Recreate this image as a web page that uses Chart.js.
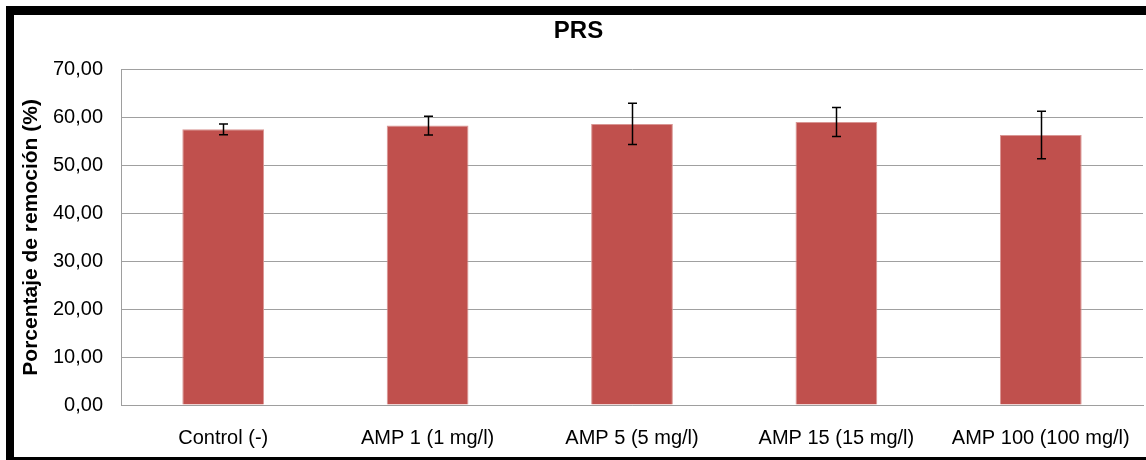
<!DOCTYPE html>
<html>
<head>
<meta charset="utf-8">
<script src="https://cdn.jsdelivr.net/npm/chart.js@4"></script>
<style>
  html, body { margin: 0; padding: 0; background: #fff; overflow: hidden; }
  #frame {
    position: absolute; left: 6px; top: 6px;
    width: 1160px; height: 442px;
    border-top: 9px solid #000; border-left: 8px solid #000; border-bottom: 8px solid #000;
    background: #fff;
  }
  #wrap { position: absolute; left: 0; top: 0; width: 1132px; height: 442px; }
</style>
</head>
<body>
<div id="frame"><div id="wrap"><canvas id="myChart" width="1132" height="442"></canvas></div></div>
<script>
const categories = ['Control (-)', 'AMP 1 (1 mg/l)', 'AMP 5 (5 mg/l)', 'AMP 15 (15 mg/l)', 'AMP 100 (100 mg/l)'];
const removal = [57.56, 58.35, 58.7, 59.1, 56.4];
const errors = [1.1, 1.95, 4.3, 3.05, 4.95];
const yTicks = [0, 10, 20, 30, 40, 50, 60, 70];

const fmt = v => v.toFixed(2).replace('.', ',');

// error bars drawn from the data through the y scale
const errorBars = {
  id: 'errorBars',
  afterDatasetsDraw(chart) {
    const ctx = chart.ctx;
    const y = chart.scales.y;
    const meta = chart.getDatasetMeta(0);
    ctx.save();
    ctx.strokeStyle = '#000';
    ctx.lineWidth = 1.5;
    meta.data.forEach((bar, i) => {
      const top = y.getPixelForValue(removal[i] + errors[i]);
      const bot = y.getPixelForValue(removal[i] - errors[i]);
      const x = Math.round(bar.x) + 0.5;
      ctx.beginPath();
      ctx.moveTo(x, top); ctx.lineTo(x, bot);
      ctx.moveTo(x - 4.5, top); ctx.lineTo(x + 4.5, top);
      ctx.moveTo(x - 4.5, bot); ctx.lineTo(x + 4.5, bot);
      ctx.stroke();
    });
    ctx.restore();
  }
};

Chart.defaults.font.family = '"Liberation Sans", Arial, sans-serif';
Chart.defaults.color = '#000';

const ctx = document.getElementById('myChart').getContext('2d');
const myChart = new Chart(ctx, {
  type: 'bar',
  data: {
    labels: categories,
    datasets: [{
      label: 'PRS',
      data: removal,
      backgroundColor: '#C0504D',
      borderColor: '#d99694',
      borderWidth: 1,
      categoryPercentage: 1,
      barPercentage: 0.4
    }]
  },
  options: {
    responsive: false,
    animation: false,
    layout: { padding: { left: 0, right: 3, top: 0, bottom: 0 } },
    plugins: {
      legend: { display: false },
      tooltip: { enabled: false },
      title: {
        display: true,
        text: 'PRS',
        font: { size: 24, weight: 'bold' },
        padding: { top: 2, bottom: 24 }
      }
    },
    scales: {
      x: {
        grid: { display: false, drawTicks: false },
        border: { color: '#9e9e9e', width: 1 },
        ticks: { font: { size: 20 }, padding: 21, maxRotation: 0 },
        afterFit: s => { s.height = 52; s.paddingLeft = 0; s.paddingRight = 0; }
      },
      y: {
        min: 0, max: 70,
        afterBuildTicks: s => { s.ticks = yTicks.map(v => ({ value: v })); },
        grid: { color: '#a0a0a0', lineWidth: 1, drawTicks: false },
        border: { color: '#9e9e9e', width: 1 },
        ticks: { font: { size: 20 }, padding: 18, callback: v => fmt(v) },
        title: {
          display: true,
          text: 'Porcentaje de remoción (%)',
          font: { size: 21, weight: 'bold' },
          padding: { top: 5, bottom: 0 }
        },
        afterFit: s => { s.width = 107; }
      }
    }
  },
  plugins: [errorBars]
});
</script>
</body>
</html>
